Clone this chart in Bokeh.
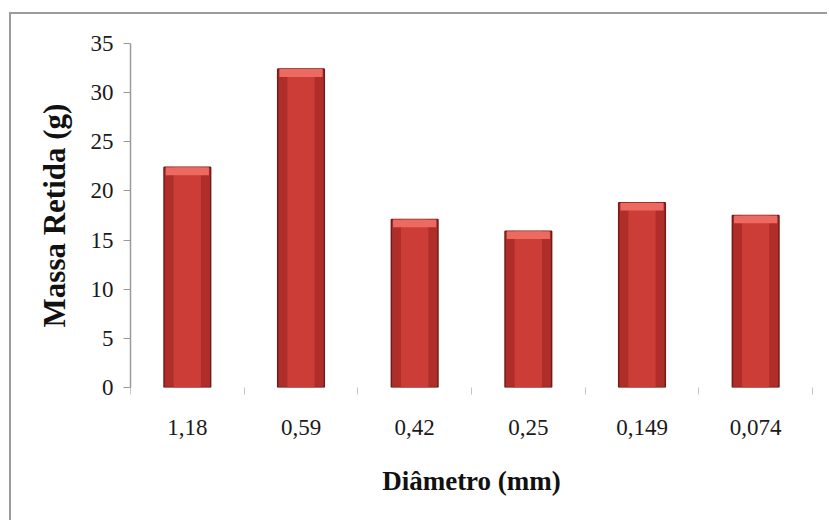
from bokeh.plotting import figure
from bokeh.models import Range1d, FixedTicker, ColumnDataSource
from bokeh.embed import file_html
from bokeh.resources import INLINE

# Sieve analysis: retained mass per sieve opening
diametros = ["1,18", "0,59", "0,42", "0,25", "0,149", "0,074"]
massa_retida = [22.4, 32.4, 17.1, 15.9, 18.8, 17.5]
y_ticks = [0, 5, 10, 15, 20, 25, 30, 35]

SERIF = "Liberation Serif"
n = len(diametros)
centros = [i + 0.5 for i in range(n)]
limites = list(range(n + 1))

src = ColumnDataSource(data=dict(
    x=centros,
    m=massa_retida,
    cap=[v - 0.8 for v in massa_retida],
))

p = figure(
    x_range=Range1d(0, n),
    y_range=Range1d(0, 35),
    width=818, height=508,
    margin=(12, 0, 0, 9),
    min_border_left=119, min_border_right=17,
    min_border_top=29, min_border_bottom=135,
    output_backend="svg", toolbar_location=None,
    background_fill_color="white", border_fill_color="white",
    styles={"border-top": "2px solid #9c9c9c",
            "border-left": "2px solid #9c9c9c"},
)
p.outline_line_color = None
p.grid.visible = False

# bars: dark rim, brighter core, light bevelled top
p.vbar(x="x", top="m", width=0.41, source=src,
       fill_color="#b02e2a", line_color="#74191a", line_width=1.5)
p.vbar(x="x", top="m", width=0.24, source=src,
       fill_color="#cc3d38", line_color=None)
p.vbar(x="x", top="m", bottom="cap", width=0.38, source=src,
       fill_color="#ec6a5f", line_color=None)

# y axis
p.yaxis.ticker = FixedTicker(ticks=y_ticks)
p.yaxis.axis_line_color = "#9a9a9a"
p.yaxis.axis_line_width = 1.5
p.yaxis.major_tick_line_color = "#9a9a9a"
p.yaxis.major_tick_out = 7
p.yaxis.major_tick_in = 0
p.yaxis.minor_tick_line_color = None
p.yaxis.major_label_standoff = 10
p.yaxis.major_label_text_font = SERIF
p.yaxis.major_label_text_font_size = "23px"
p.yaxis.major_label_text_color = "#1a1a1a"
p.yaxis.axis_label = "Massa Retida (g)"
p.yaxis.axis_label_text_font = SERIF
p.yaxis.axis_label_text_font_style = "bold"
p.yaxis.axis_label_text_font_size = "31px"
p.yaxis.axis_label_text_color = "#111111"
p.yaxis.axis_label_standoff = 16

# x axis: labels at bar centres, small marks between categories
xa = p.xaxis[0]
xa.ticker = FixedTicker(ticks=centros, minor_ticks=limites)
xa.major_label_overrides = {c: d for c, d in zip(centros, diametros)}
xa.axis_line_color = None
xa.major_tick_line_color = None
xa.major_tick_out = 0
xa.major_tick_in = 0
xa.minor_tick_line_color = "#c4c4c4"
xa.minor_tick_out = 7
xa.minor_tick_in = 0
xa.major_label_standoff = 25
xa.major_label_text_font = SERIF
xa.major_label_text_font_size = "23px"
xa.major_label_text_color = "#1a1a1a"
xa.axis_label = "Diâmetro (mm)"
xa.axis_label_text_font = SERIF
xa.axis_label_text_font_style = "bold"
xa.axis_label_text_font_size = "27px"
xa.axis_label_text_color = "#111111"
xa.axis_label_standoff = 28

open("out.html", "w").write(file_html(p, INLINE))
